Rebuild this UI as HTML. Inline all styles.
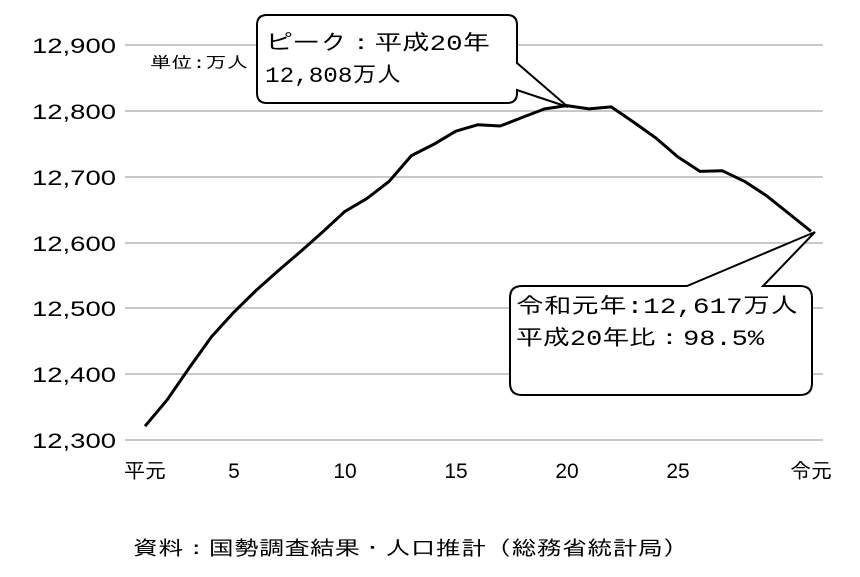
<!DOCTYPE html>
<html><head><meta charset="utf-8"><style>
body{margin:0;background:#fff;}
svg{display:block;font-family:"Liberation Sans","Noto Sans CJK JP",sans-serif;}
.j{font-family:"Liberation Mono","IPAGothic","Noto Sans CJK JP",monospace;}
</style></head><body>
<svg width="860" height="577" viewBox="0 0 860 577">
<g stroke="#a6a6a6" stroke-width="1.3">
<line x1="125" y1="45" x2="823" y2="45"/>
<line x1="125" y1="111" x2="823" y2="111"/>
<line x1="125" y1="177" x2="823" y2="177"/>
<line x1="125" y1="243" x2="823" y2="243"/>
<line x1="125" y1="308" x2="823" y2="308"/>
<line x1="125" y1="374" x2="823" y2="374"/>
<line x1="125" y1="440" x2="823" y2="440"/>
</g>
<g font-size="21" fill="#000">
<text x="32" y="53" textLength="84" lengthAdjust="spacingAndGlyphs">12,900</text>
<text x="32" y="119" textLength="84" lengthAdjust="spacingAndGlyphs">12,800</text>
<text x="32" y="185" textLength="84" lengthAdjust="spacingAndGlyphs">12,700</text>
<text x="32" y="251" textLength="84" lengthAdjust="spacingAndGlyphs">12,600</text>
<text x="32" y="316" textLength="84" lengthAdjust="spacingAndGlyphs">12,500</text>
<text x="32" y="382" textLength="84" lengthAdjust="spacingAndGlyphs">12,400</text>
<text x="32" y="448" textLength="84" lengthAdjust="spacingAndGlyphs">12,300</text>
</g>
<g font-size="21" fill="#000" text-anchor="middle">
<text x="145" y="478" font-size="21" class="j">平元</text>
<text x="234" y="478">5</text>
<text x="345" y="478">10</text>
<text x="456" y="478">15</text>
<text x="567" y="478">20</text>
<text x="678" y="478">25</text>
<text x="811" y="478" font-size="21" class="j">令元</text>
</g>
<text x="150" y="68" font-size="16" textLength="98" lengthAdjust="spacingAndGlyphs" class="j">単位:万人</text>
<polyline fill="none" stroke="#000" stroke-width="3" stroke-linejoin="round" points="145,426.2 167.2,399.8 189.4,367.6 211.6,336.6 233.8,312.3 256,290.5 278.2,270.8 300.4,251.7 322.6,232 344.8,211.5 367,198.4 389.2,181.3 411.4,155.6 433.6,144.4 455.8,131.2 478,124.7 500.2,126 522.4,117.4 544.6,108.9 566.8,105.6 589,108.9 611.2,106.9 633.4,122 655.6,137.8 677.8,156.9 700,171.4 722.2,170.7 744.4,181.3 766.6,195.8 788.8,213.5 811,231.3"/>
<path d="M267,15 H507 Q517,15 517,25 V63 L568,107 L517,90 V93 Q517,103 507,103 H267 Q257,103 257,93 V25 Q257,15 267,15 Z" fill="#fff" stroke="#000" stroke-width="2"/>
<g font-size="22" class="j" fill="#000">
<text x="265" y="50" textLength="225" lengthAdjust="spacingAndGlyphs">ピーク：平成20年</text>
<text x="265" y="82" textLength="136" lengthAdjust="spacingAndGlyphs">12,808万人</text>
</g>
<path d="M522,286 H687 L815,232 L763,286 H800 Q812,286 812,298 V383 Q812,395 800,395 H522 Q510,395 510,383 V298 Q510,286 522,286 Z" fill="#fff" stroke="#000" stroke-width="2"/>
<g font-size="22" class="j" fill="#000">
<text x="516" y="313" textLength="282" lengthAdjust="spacingAndGlyphs">令和元年:12,617万人</text>
<text x="516" y="345" textLength="248" lengthAdjust="spacingAndGlyphs">平成20年比：98.5%</text>
</g>
<text x="133" y="555" font-size="20" class="j" textLength="555" lengthAdjust="spacingAndGlyphs" fill="#000">資料：国勢調査結果・人口推計（総務省統計局）</text>
</svg>
</body></html>
